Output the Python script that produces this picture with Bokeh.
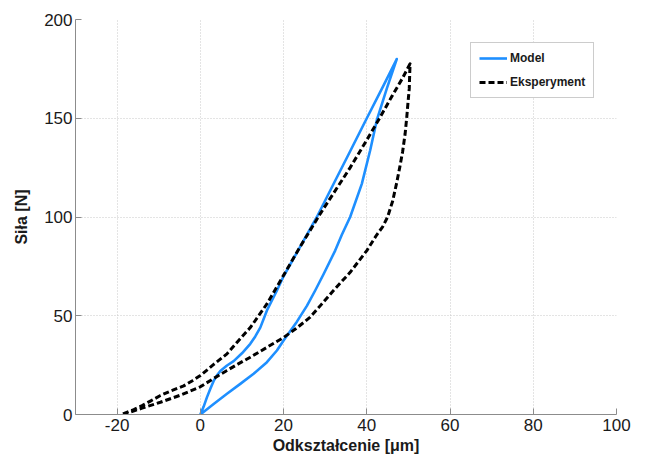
from bokeh.plotting import figure
from bokeh.models import Range1d, FixedTicker, PrintfTickFormatter
from bokeh.embed import file_html
from bokeh.resources import INLINE

# Model hysteresis loop (loading then unloading), deformation [um] vs force [N]
model_x = [0, 0.8, 1.6, 2.4, 3.2, 4, 4.8, 6.4, 8, 10, 12, 13.2, 14.4, 16, 18.4, 20, 24, 28, 32, 36, 40, 44, 47.2,
           44.8, 42.4, 40.8, 38.8, 36, 34, 32.4, 29.6, 27.6, 25.6, 23.2, 20, 18.4, 16, 12.8, 9.6, 6.4, 3.2, 0]
model_y = [0, 4, 8.8, 13, 17, 19.8, 22, 24.8, 27, 31, 35.8, 39.5, 44, 52.7, 62.8, 70, 85, 100, 116.7, 133.3, 150, 166.5, 180,
           165, 149, 133.7, 116.8, 100, 91, 83, 71, 62.8, 55, 47, 37.5, 32.4, 26.5, 20.6, 15.5, 10.5, 5.3, 0]

# Experiment hysteresis loop
exp_x = [-18.6, -16, -14, -12, -9.6, -7, -4, -2, 0, 3, 6.4, 9, 12, 16, 20, 24, 28.8, 32, 36, 40, 43.2, 46, 48.5, 50.4,
         50.3, 50.2, 49.9, 49.6, 49.2, 48.6, 47.9, 47.2, 46.2, 45, 43.8, 42.4, 40, 36, 32, 29, 26.4, 23, 20, 16, 12, 9, 6.4,
         3, 0, -4.8, -9.6, -14, -16.8, -18.6]
exp_y = [0.3, 2.5, 4.5, 6.8, 9.6, 12, 14.5, 17, 19.7, 25, 30.7, 37, 44, 56, 70.5, 85, 101.6, 112, 125, 139, 150.5, 161, 170, 177.6,
         172, 165, 158, 150.5, 142, 133, 125, 117.5, 108, 100, 95, 91, 83, 72, 62.8, 55.5, 49.3, 43.5, 39, 34, 29, 25.5, 22.3,
         18, 14, 9.8, 6.2, 3.2, 1.2, 0.3]

x_ticks = [-20, 0, 20, 40, 60, 80, 100]
y_ticks = [0, 50, 100, 150, 200]

FONT = "Liberation Sans"

p = figure(width=646, height=461, output_backend="svg", toolbar_location=None,
           x_range=Range1d(-30, 100), y_range=Range1d(0, 200),
           min_border_left=75, min_border_right=30, min_border_top=19, min_border_bottom=47)
p.outline_line_color = None
p.background_fill_color = "white"
p.border_fill_color = "white"

p.line(model_x, model_y, line_color="#1e8fff", line_width=2.6, legend_label="Model",
       line_join="round")
p.line(exp_x, exp_y, line_color="black", line_width=3, line_dash="6 3", legend_label="Eksperyment",
       line_join="round")

p.xaxis.ticker = FixedTicker(ticks=x_ticks)
p.yaxis.ticker = FixedTicker(ticks=y_ticks)
p.xaxis.formatter = PrintfTickFormatter(format="%d")
p.yaxis.formatter = PrintfTickFormatter(format="%d")

for ax in (p.xaxis[0], p.yaxis[0]):
    ax.axis_line_color = "#8c8c8c"
    ax.major_tick_line_color = "#8c8c8c"
    ax.major_tick_in = 6
    ax.major_tick_out = 0
    ax.minor_tick_line_color = None
    ax.major_label_text_font = FONT
    ax.major_label_text_font_size = "17px"
    ax.major_label_text_color = "#1a1a1a"
    ax.axis_label_text_font = FONT
    ax.axis_label_text_font_style = "bold"
    ax.axis_label_text_font_size = "16px"
    ax.axis_label_text_color = "#1a1a1a"

p.xaxis.axis_label = "Odkształcenie [μm]"
p.yaxis.axis_label = "Siła [N]"
p.xaxis.major_label_standoff = 4
p.xaxis.axis_label_standoff = 3
p.yaxis.major_label_standoff = 3
p.yaxis.axis_label_standoff = 11

p.xgrid.ticker = FixedTicker(ticks=x_ticks)
p.ygrid.ticker = FixedTicker(ticks=y_ticks)
for g in (p.xgrid[0], p.ygrid[0]):
    g.grid_line_color = "#c8c8c8"
    g.grid_line_dash = "1 2"
    g.grid_line_width = 1

lg = p.legend[0]
lg.location = (395, 316)
lg.glyph_width = 28
lg.glyph_height = 14
lg.label_height = 14
lg.label_standoff = 3
lg.padding = 8
lg.spacing = 10
lg.margin = 0
lg.label_text_font = FONT
lg.label_text_font_size = "12px"
lg.label_text_font_style = "bold"
lg.label_text_color = "#1a1a1a"
lg.border_line_color = "#999999"
lg.border_line_width = 1
lg.background_fill_alpha = 1

open("out.html", "w").write(file_html(p, INLINE))
